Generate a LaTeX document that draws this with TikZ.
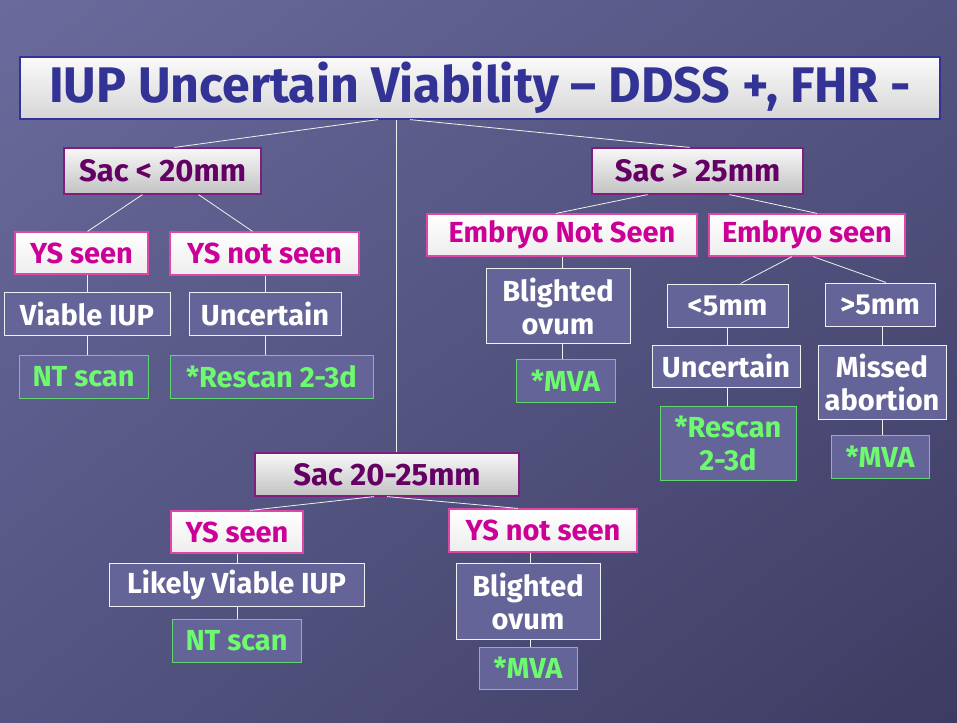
\documentclass[tikz,border=0pt]{standalone}
\usepackage{fontspec}
\setmainfont{Fira Sans}
\usetikzlibrary{arrows,shapes,backgrounds,shadings}
\definecolor{fondA}{RGB}{106,106,156}
\definecolor{fondB}{RGB}{60,60,98}
\definecolor{fondC}{RGB}{84,84,130}
\definecolor{titreBleu}{RGB}{51,51,150}
\definecolor{sacViolet}{RGB}{100,0,100}
\definecolor{sacBord}{RGB}{128,30,128}
\definecolor{ysRose}{RGB}{204,0,150}
\definecolor{ysBord}{RGB}{222,70,170}
\definecolor{boiteFond}{RGB}{100,100,152}
\definecolor{monVert}{RGB}{110,250,110}
\definecolor{vertBord}{RGB}{96,215,110}
\tikzstyle{titre} = [draw=titreBleu, top color=gray!4, bottom color=gray!32, rectangle, text=titreBleu, line width=1.2pt, inner sep=0pt, font=\fontsize{50}{54}\selectfont\bfseries]
\tikzstyle{sac} = [draw=sacBord, top color=gray!6, bottom color=gray!48, rectangle, text=sacViolet, line width=1.2pt, inner sep=0pt, font=\fontsize{31}{35}\selectfont\bfseries]
\tikzstyle{ys} = [draw=ysBord, top color=white, bottom color=gray!14, rectangle, text=ysRose, line width=1.2pt, inner sep=0pt, font=\fontsize{29}{33}\selectfont\bfseries]
\tikzstyle{etape} = [draw=gray!12, fill=boiteFond, rectangle, text=white, align=center, line width=1pt, inner sep=0pt, font=\fontsize{29}{33}\selectfont\bfseries]
\tikzstyle{acte} = [draw=vertBord, fill=boiteFond, rectangle, text=monVert, align=center, line width=1pt, inner sep=0pt, font=\fontsize{29}{33}\selectfont\bfseries]
\tikzstyle{lien} = [draw=white!88!gray, line width=0.8pt]

\begin{document}
\begin{tikzpicture}[x=1pt, y=-1pt]
    \shade[upper left=fondA, upper right=fondC, lower left=fondC, lower right=fondB] (0,0) rectangle (957,722);
    \useasboundingbox (0,0) rectangle (957,722);

    \node [titre, minimum width=920, minimum height=62] (titre) at (480,88) {IUP Uncertain Viability – DDSS +, FHR -};

    % branche gauche
    \node [sac, minimum width=197, minimum height=46] (sacA) at (162.5,171) {Sac < 20mm};
    \node [ys, minimum width=133, minimum height=42] (ysA) at (81.5,253) {YS seen};
    \node [ys, minimum width=189, minimum height=43] (ysB) at (264.5,253.5) {YS not seen};
    \node [etape, minimum width=166, minimum height=43] (viable) at (87,313.5) {Viable IUP};
    \node [etape, minimum width=152, minimum height=43] (incA) at (265,313.5) {Uncertain};
    \node [acte, minimum width=129, minimum height=43] (ntA) at (83.5,376.5) {NT scan};
    \node [acte, minimum width=203, minimum height=43] (rescanA) at (271.5,376.5) {*Rescan 2-3d};

    % branche droite
    \node [sac, minimum width=211, minimum height=46] (sacB) at (697.5,171) {Sac > 25mm};
    \node [ys, minimum width=270, minimum height=42] (embA) at (562,235) {Embryo Not Seen};
    \node [ys, minimum width=196, minimum height=42] (embB) at (807,235) {Embryo seen};
    \node [etape, minimum width=144, minimum height=75] (ovuleA) at (558,306) {Blighted\\ovum};
    \node [acte, minimum width=99, minimum height=43] (mvaA) at (565.5,380.5) {*MVA};
    \node [etape, minimum width=121, minimum height=43] (petit) at (727.5,305.5) {<5mm};
    \node [etape, minimum width=110, minimum height=43] (grand) at (880,304.5) {>5mm};
    \node [etape, minimum width=148, minimum height=42] (incB) at (726,366) {Uncertain};
    \node [etape, minimum width=128, minimum height=74] (manque) at (882,382) {Missed\\abortion};
    \node [acte, minimum width=136, minimum height=74] (rescanB) at (728,443) {*Rescan\\2-3d};
    \node [acte, minimum width=98, minimum height=43] (mvaB) at (880,456.5) {*MVA};

    % branche milieu
    \node [sac, minimum width=264, minimum height=43] (sacC) at (387,474.5) {Sac 20-25mm};
    \node [ys, minimum width=132, minimum height=42] (ysC) at (237,532) {YS seen};
    \node [ys, minimum width=188, minimum height=43] (ysD) at (543,530.5) {YS not seen};
    \node [etape, minimum width=255, minimum height=43] (probable) at (236.5,584.5) {Likely Viable IUP};
    \node [etape, minimum width=144, minimum height=76] (ovuleB) at (528,601) {Blighted\\ovum};
    \node [acte, minimum width=129, minimum height=43] (ntB) at (236.5,640.5) {NT scan};
    \node [acte, minimum width=98, minimum height=42] (mvaC) at (528,668) {*MVA};

    % liens
    \coordinate (pied) at ([xshift=-84pt]titre.south);
    \path[lien] ([xshift=-102pt]titre.south) edge ([xshift=12pt]sacA.north)
                ([xshift=-70pt]titre.south) edge ([xshift=-8pt]sacB.north)
                (pied) edge (pied |- sacC.north);
    \path[lien] ([xshift=-20pt]sacA.south) edge ([xshift=6pt]ysA.north)
                ([xshift=36pt]sacA.south) edge ([xshift=-12pt]ysB.north)
                (viable.north |- ysA.south) edge (viable.north)
                (viable.south) edge (viable.south |- ntA.north)
                (incA.north |- ysB.south) edge (incA.north)
                (incA.south) edge (incA.south |- rescanA.north);
    \path[lien] ([xshift=-50pt]sacB.south) edge ([xshift=-6pt]embA.north)
                ([xshift=32pt]sacB.south) edge ([xshift=10pt]embB.north)
                (embA.south) edge (embA.south |- ovuleA.north)
                (embA.south |- ovuleA.south) edge (embA.south |- mvaA.north)
                ([xshift=-15pt]embB.south) edge ([xshift=13pt]petit.north)
                ([xshift=6pt]embB.south) edge ([xshift=6pt]grand.north)
                (petit.south) edge (petit.south |- incB.north)
                (petit.south |- incB.south) edge (petit.south |- rescanB.north)
                ([xshift=2pt]grand.south) edge ([xshift=2pt]grand.south |- manque.north)
                ([xshift=2pt]grand.south |- manque.south) edge ([xshift=2pt]grand.south |- mvaB.north);
    \path[lien] ([xshift=-13pt]sacC.south) edge ([xshift=13pt]ysC.north)
                (sacC.south) edge ([xshift=-25pt]ysD.north)
                (ysC.south) edge (ysC.south |- probable.north)
                (ysC.south |- probable.south) edge (ysC.south |- ntB.north)
                ([xshift=-13pt]ysD.south) edge ([xshift=-13pt]ysD.south |- ovuleB.north)
                ([xshift=-13pt]ysD.south |- ovuleB.south) edge ([xshift=-13pt]ysD.south |- mvaC.north);
\end{tikzpicture}
\end{document}
